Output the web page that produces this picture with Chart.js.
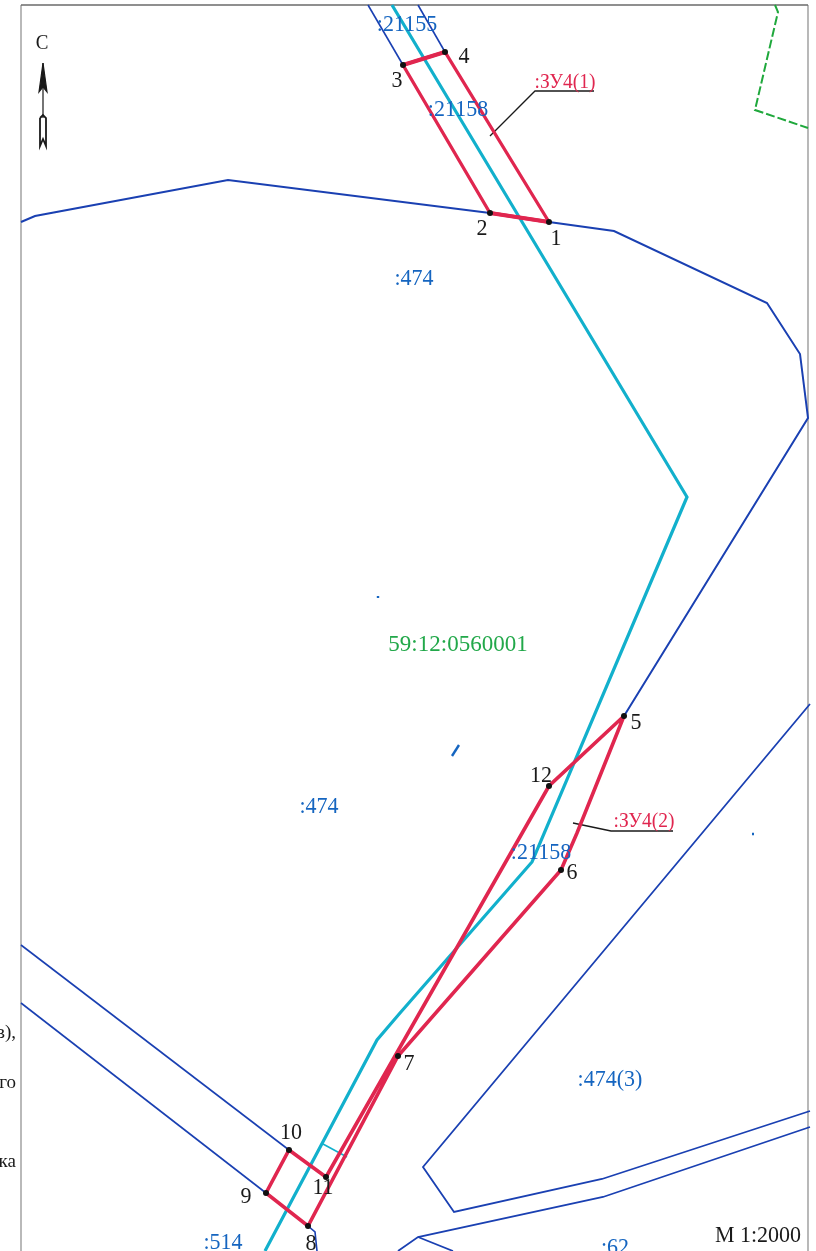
<!DOCTYPE html>
<html><head><meta charset="utf-8">
<style>html,body{margin:0;padding:0;background:#fff}canvas{display:block}</style>
<script src="https://cdn.jsdelivr.net/npm/chart.js@4"></script></head>
<body><canvas id="c" width="816" height="1251"></canvas>
<script>
// Map units: sheet coordinates
const frameSides = [[21,1251],[21,5],[21,5]];
const frameRight = [[808,5],[808,1251]];
const frameTop = [[21,5],[808,5]];
const outerBoundary = [[21,222],[35,216],[228,180],[490,213],[549,222],[614,231],[767,303],[800,354],[808,418],[624,716]];
const strip21155Left = [[368,5],[403,65]];
const strip21155Right = [[418,5],[445,52]];
const roadUpper = [[21,945],[289,1150]];
const roadLower = [[21,1003],[266,1193]];
const stubNear8 = [[308,1226],[315,1232],[317,1251]];
const parcel474_3 = [[810,704],[423,1167],[454,1212],[602,1179],[810,1111]];
const parcel62 = [[810,1127],[603,1197],[418,1237],[398,1251]];
const parcel62Branch = [[418,1237],[453,1251]];
const specks = [[[378,596],[378,598]],[[459,745],[452,756]],[[752,834],[754,834]]];
const utilityAxis = [[392,5],[687,497],[532,862],[400,1013],[377,1040],[265,1251]];
const utilityTick = [[323,1144],[347,1157]];
const quarterBorder = [[775,5],[778,12],[755,110],[808,128]];
const plot1 = [[549,222],[490,213],[403,65],[445,52],[549,222]];
const plot2 = [[624,716],[549,786],[326,1177],[289,1150],[266,1193],[308,1226],[398,1056],[561,870],[577,833],[624,716]];
const plot1ThickEnds = [[[549,222],[490,213]],[[403,65],[445,52]]];
const leader1 = [[490,136],[535,91],[594,91]];
const leader2 = [[573,823],[611,831],[673,831]];
const arrowShaft = [[43,63],[43,118]];
const arrowHead = [[43,63],[39,92],[43,87],[47,92],[43,63]];
const arrowTail = [[40,118],[43,115],[46,118],[46,146],[43,139],[40,146],[40,118]];
const turningPoints = [[549,222],[490,213],[403,65],[445,52],[624,716],[561,870],[398,1056],[308,1226],[266,1193],[289,1150],[326,1177],[549,786]];
const pointNames = ['1','2','3','4','5','6','7','8','9','10','11','12'];
const pointNameAt = [[556,239],[482,229],[397,81],[464,57],[636,723],[572,873],[409,1064],[311,1244],[246,1197],[291,1133],[323,1188],[541,776]];
const blueLabels = [':21155',':21158',':474',':474',':21158',':474(3)',':514',':62'];
const blueLabelAt = [[407,25],[458,110],[414,279],[319,807],[541,853],[610,1080],[223,1243],[615,1248]];
const redLabels = [':ЗУ4(1)',':ЗУ4(2)'];
const redLabelAt = [[565,83],[644,822]];
const quarterLabel = ['59:12:0560001'];
const quarterLabelAt = [[458,645]];
const cutOffText = ['в),','го','ка'];
const cutOffAt = [[16,1033],[16,1083],[16,1162]];
const northLabel = ['С'];
const northAt = [[42,44]];
const scaleLabel = ['M 1:2000'];
const scaleAt = [[758,1236]];

const BLUE='#1a40b2', CYAN='#12b0cc', RED='#e0264f', GREEN='#1fa83c', INK='#1a1a1a';
const pts = a => a.map(p => ({x:p[0], y:p[1]}));
let n = 100;
const line = (a,color,w,extra) => Object.assign({data:pts(a),showLine:true,borderColor:color,borderWidth:w,
  pointRadius:0,fill:false,tension:0,order:n--,borderJoinStyle:'miter'},extra||{});

const labelsPlugin = {id:'labels',afterDatasetsDraw(ch){
  const g=ch.ctx,X=ch.scales.x,Y=ch.scales.y;
  const put=(ts,at,color,size,align,stretch)=>ts.forEach((t,i)=>{
    g.save();g.font=size+'px "Liberation Serif"';g.fillStyle=color;g.textAlign=align||'center';g.textBaseline='middle';
    g.translate(X.getPixelForValue(at[i][0]),Y.getPixelForValue(at[i][1]));g.scale(1,stretch||1.06);
    g.fillText(t,0,0);g.restore();});
  put(blueLabels,blueLabelAt,'#1565c0',22);
  put(redLabels,redLabelAt,'#e0264f',19.5);
  put(quarterLabel,quarterLabelAt,'#22a84a',23,'center',1);
  put(pointNames,pointNameAt,INK,22);
  put(cutOffText,cutOffAt,INK,19,'right',1);
  put(northLabel,northAt,INK,19,'center',1.05);
  put(scaleLabel,scaleAt,INK,22,'center',1.05);
}};

new Chart(document.getElementById('c'),{type:'scatter',
 data:{datasets:[
  line(frameSides,'#8a8a8a',1.2),
  line(frameRight,'#8a8a8a',1.2),
  line(frameTop,'#6a6a6a',1.4),
  line(quarterBorder,GREEN,2,{borderDash:[9,3]}),
  line(outerBoundary,BLUE,2),
  line(strip21155Left,BLUE,1.6),
  line(strip21155Right,BLUE,1.6),
  line(roadUpper,BLUE,1.6),
  line(roadLower,BLUE,1.6),
  line(stubNear8,BLUE,1.6),
  line(parcel474_3,BLUE,1.8),
  line(parcel62,BLUE,1.8),
  line(parcel62Branch,BLUE,1.8),
  ...specks.map(s=>line(s,'#1565c0',2.4)),
  line(utilityAxis,CYAN,3.2),
  line(utilityTick,CYAN,1.6),
  line(leader1,INK,1.3),
  line(leader2,INK,1.3),
  line(plot1,RED,3.3),
  line(plot2,RED,3.6),
  ...plot1ThickEnds.map(s=>line(s,RED,4)),
  line(arrowShaft,INK,1.2),
  line(arrowHead,INK,1.2,{fill:'shape',backgroundColor:INK}),
  line(arrowTail,INK,1.8),
  {data:pts(turningPoints),showLine:false,pointRadius:3,pointBackgroundColor:'#111',pointBorderWidth:0,order:0}
 ]},
 options:{responsive:false,animation:false,devicePixelRatio:1,layout:{padding:0,autoPadding:false},
  plugins:{legend:{display:false},tooltip:{enabled:false},title:{display:false}},
  scales:{x:{type:'linear',min:0,max:816,display:false},y:{type:'linear',min:0,max:1251,reverse:true,display:false}}},
 plugins:[labelsPlugin]});
</script></body></html>
